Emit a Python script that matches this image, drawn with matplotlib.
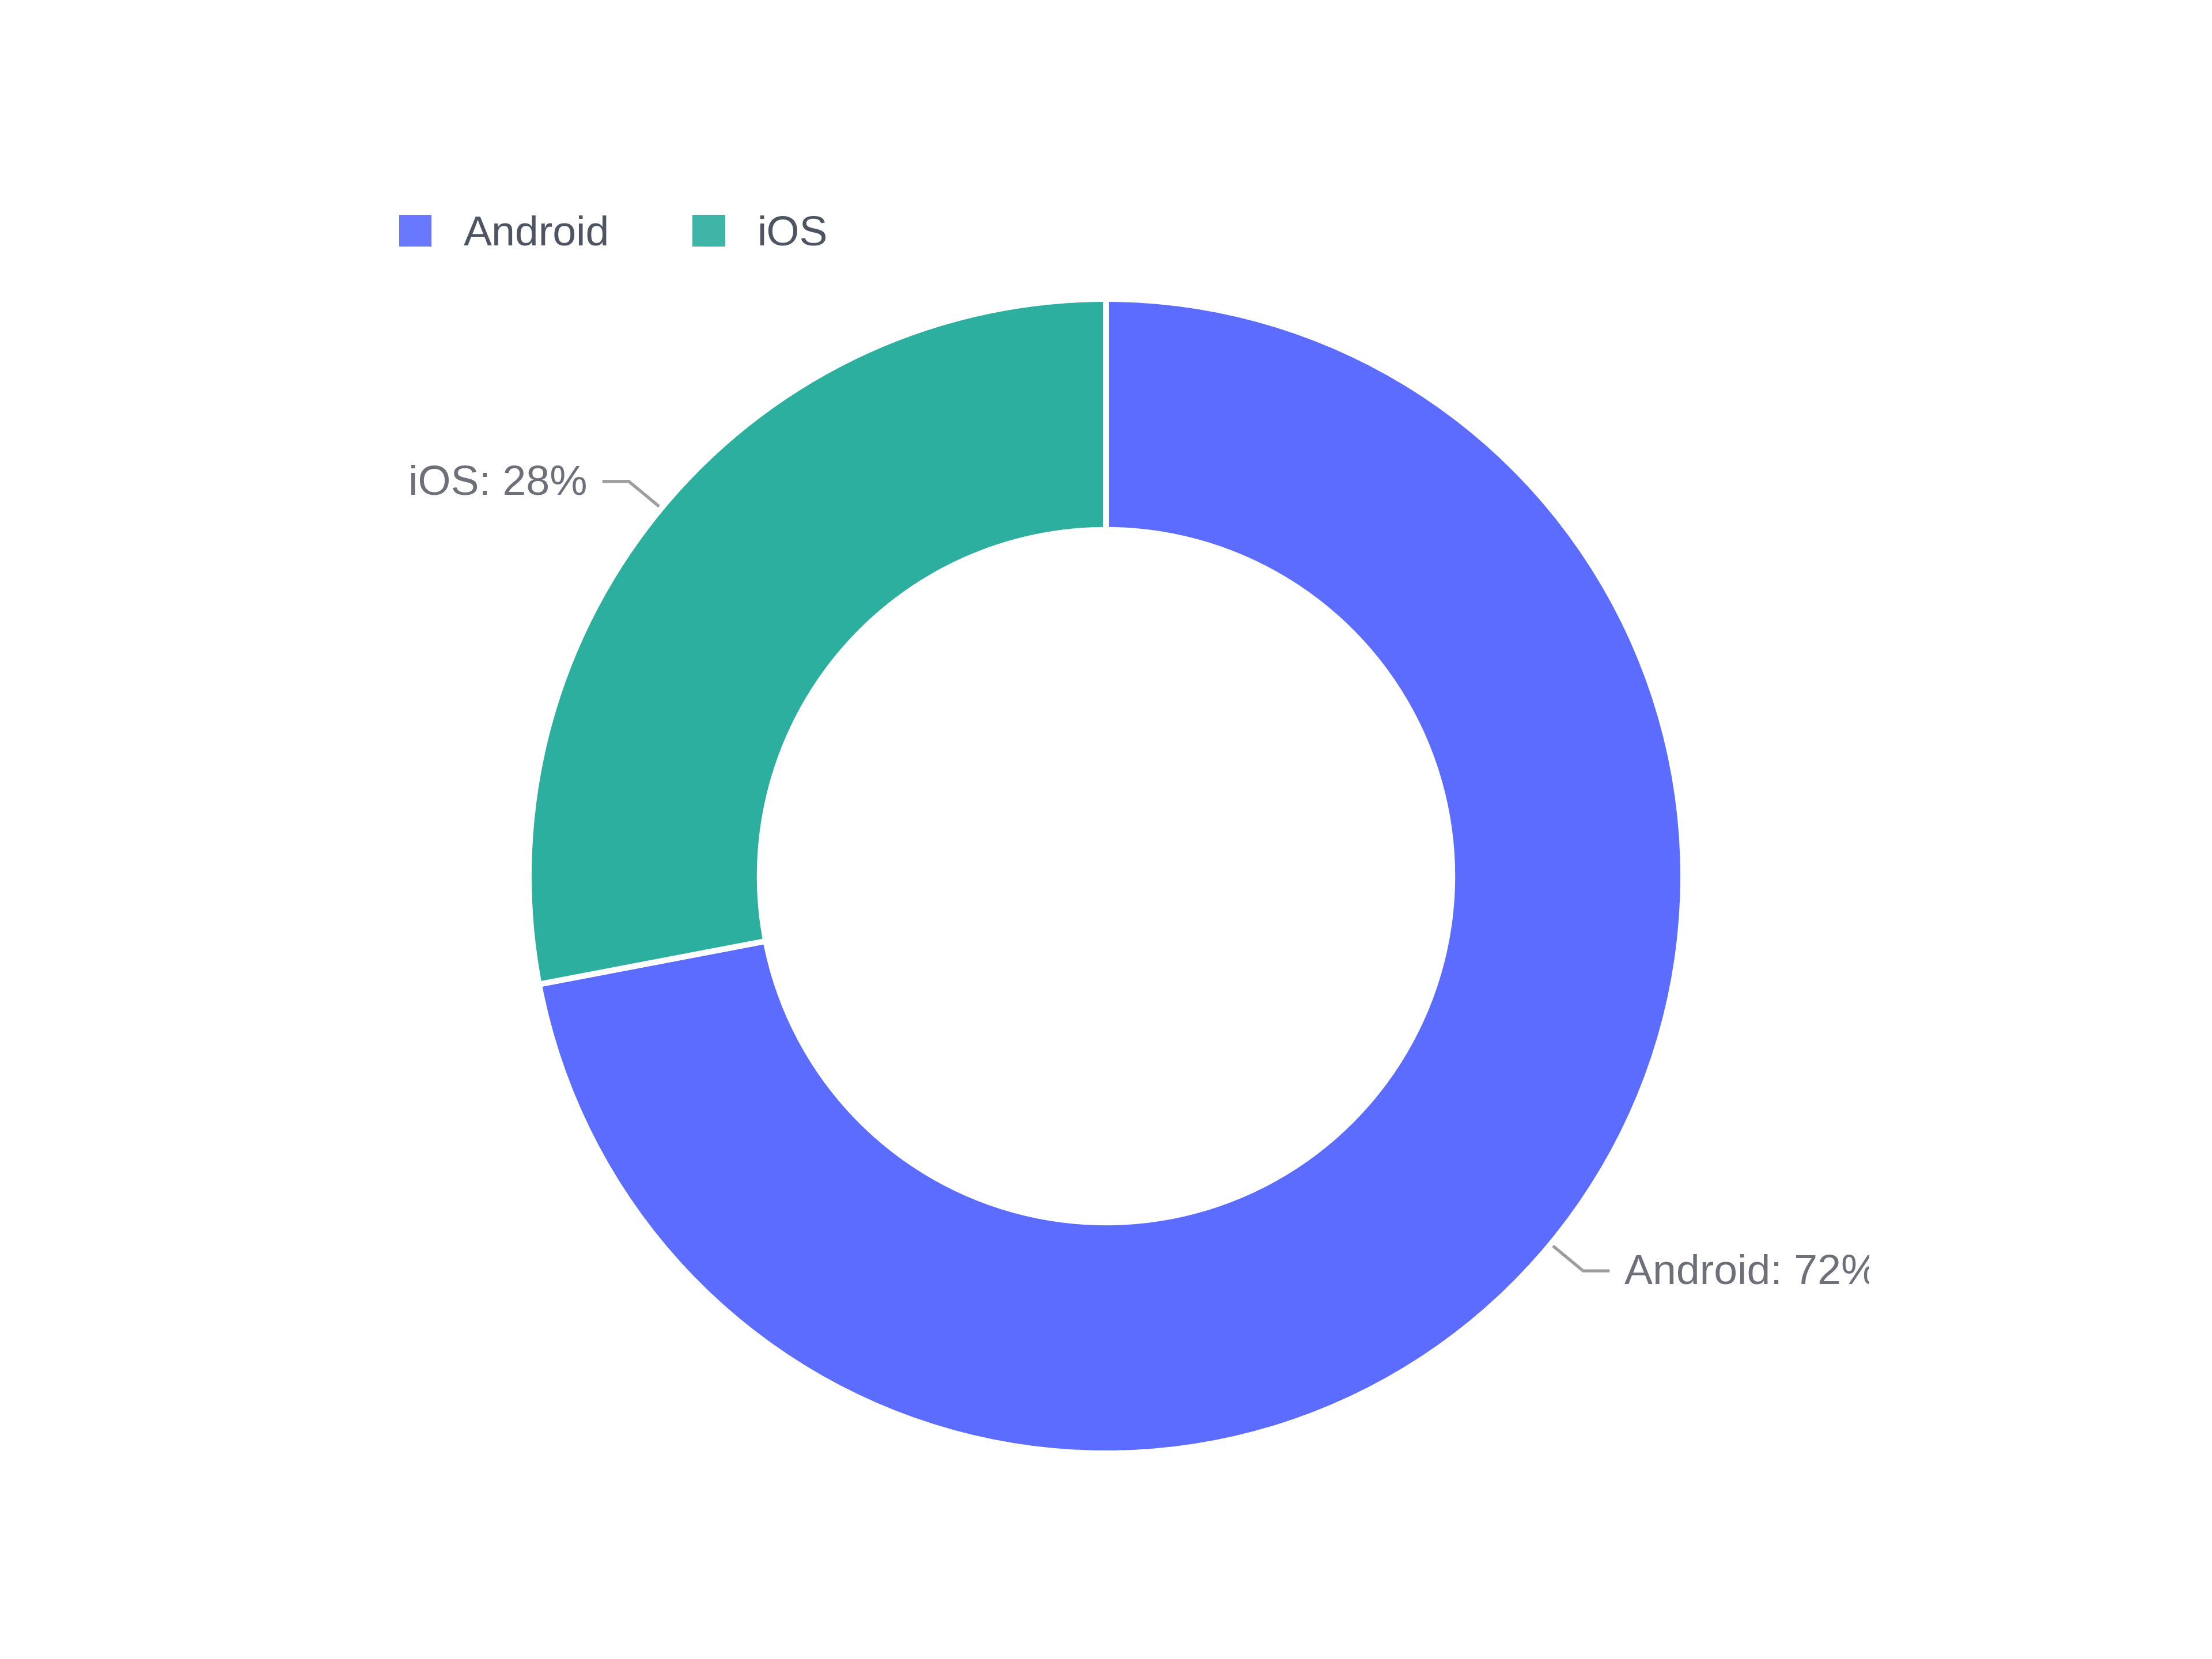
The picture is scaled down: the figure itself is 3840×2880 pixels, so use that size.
import numpy as np
import matplotlib
matplotlib.use('Agg')
import matplotlib.pyplot as plt
from matplotlib.patches import Patch
from matplotlib.transforms import Bbox, TransformedBbox

# Data
platforms = ['Android', 'iOS']
shares = [72, 28]
colors = ['#5B6CFF', '#2DAF9F']

plt.rcParams['font.family'] = ['Liberation Sans', 'DejaVu Sans']

W, H = 3840, 2880
fig = plt.figure(figsize=(16, 12), dpi=240)
ax = fig.add_axes([0, 0, 1, 1])
ax.set_xlim(0, W)
ax.set_ylim(0, H)
ax.axis('off')

# Donut geometry (pixel units, y up)
cx, cy = 1920, H - 1521
R = 1002
ring = 0.400

wedges, _ = ax.pie(shares, colors=colors, startangle=90, counterclock=False,
                   radius=R, center=(cx, cy),
                   wedgeprops=dict(width=R * ring, edgecolor='white', linewidth=3))
ax.set_xlim(0, W)
ax.set_ylim(0, H)
ax.set_aspect('equal')

# Outside labels with leader lines
clip = TransformedBbox(Bbox([[0, 0], [3245 / W, 1]]), fig.transFigure)
for w, name, val in zip(wedges, platforms, shares):
    mid = np.deg2rad((w.theta1 + w.theta2) / 2)
    dx, dy = np.cos(mid), np.sin(mid)
    x0, y0 = cx + (R + 5) * dx, cy + (R + 5) * dy
    x1, y1 = cx + (R + 73) * dx, cy + (R + 73) * dy
    side = 1 if dx > 0 else -1
    x2 = x1 + side * 46
    ax.plot([x0, x1, x2], [y0, y1, y1], color='#9E9E9E', lw=1.6,
            solid_joinstyle='miter', solid_capstyle='butt')
    t = ax.text(x2 + side * 26, y1 - 4, f'{name}: {val}%', fontsize=22, color='#6E7079',
                ha='left' if side > 0 else 'right', va='center')
    t.set_clip_box(clip)
    t.set_clip_on(True)

# Legend
handles = [Patch(facecolor=c, edgecolor='none', alpha=0.92) for c in colors]
leg = ax.legend(handles, platforms, ncol=2, loc='center left',
                bbox_to_anchor=(693 / W, 1 - 407 / H), bbox_transform=fig.transFigure,
                frameon=False, fontsize=22, borderpad=0, borderaxespad=0,
                handlelength=0.77, handleheight=0.77, handletextpad=0.75,
                columnspacing=1.97)
for txt in leg.get_texts():
    txt.set_color('#4E5562')

fig.savefig('out.png', dpi=240, facecolor='white')
